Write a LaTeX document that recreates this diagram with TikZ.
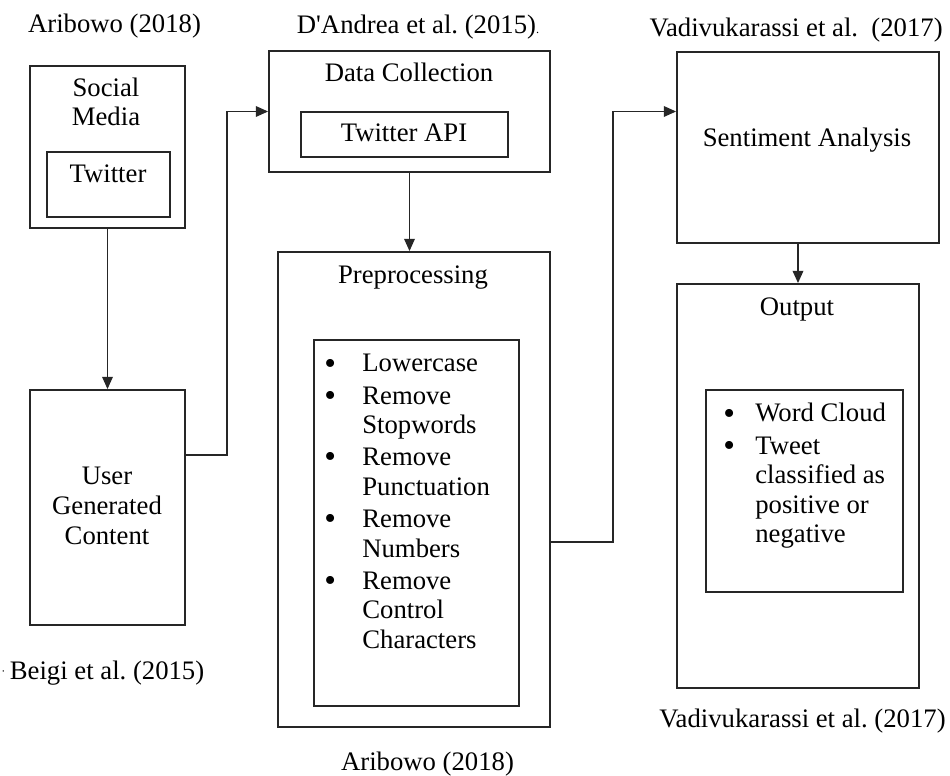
\documentclass[tikz,border=0pt]{standalone}
\usepackage{fontspec}
\setmainfont{Liberation Serif}
\usetikzlibrary{arrows.meta,fit,positioning}
\newcommand{\blt}{\raisebox{-1.2pt}{\fontsize{19}{16}\selectfont•}}

\begin{document}
\frenchspacing
\begin{tikzpicture}[x=0.02cm,y=-0.02cm,
  box/.style={draw=black!85,line width=1pt,inner sep=0pt},
  txt/.style={font=\fontsize{15.2}{16.8}\selectfont,inner sep=0pt,anchor=base},
  arr/.style={draw=black!85,line width=1pt,-{Triangle[length=7pt,width=6pt]}}]
\useasboundingbox (0,0) rectangle (950,776);

\node[box,fit={(30,66) (185,228)}] (social) {};
\node[box,fit={(47,152) (170,217)}] (twitter) {};
\node[box,fit={(30,390) (185,625)}] (ugc) {};

\node[box,fit={(269,51) (550,172)}] (data) {};
\node[box,fit={(301,112) (508,157)}] (api) {};
\node[box,fit={(278,252) (550,727)}] (pre) {};
\node[box,fit={(314,340) (519,706)}] (prelist) {};

\node[box,fit={(677,52) (939,243)}] (sent) {};
\node[box,fit={(677,284) (919,688)}] (out) {};
\node[box,fit={(706,390) (903,592)}] (outlist) {};


\node[txt,align=center] (socialtxt) at (106,126) {Social\\Media};
\node[txt] (twittertxt) at (108,183) {Twitter};
\node[txt,align=center] (ugctxt) at (107,544) {User\\Generated\\Content};
\node[txt] (datatxt) at (409,82) {Data Collection};
\node[txt] (apitxt) at (404,142) {Twitter API};
\node[txt] (pretxt) at (413,284) {Preprocessing};
\node[txt] (senttxt) at (807,147) {Sentiment Analysis};
\node[txt] (outtxt) at (797,316) {Output};

\node[txt,anchor=base west] (preitems) at (324,372) {\begin{tabular}[t]{@{}p{0.76cm}@{}l@{}}
\blt&Lowercase\\[1.5pt]
\blt&Remove\\
 &Stopwords\\[1.5pt]
\blt&Remove\\
 &Punctuation\\[1.5pt]
\blt&Remove\\
 &Numbers\\[1.5pt]
\blt&Remove\\
 &Control\\
 &Characters
\end{tabular}};
\node[txt,anchor=base west] (outitems) at (723,422) {\begin{tabular}[t]{@{}p{0.64cm}@{}l@{}}
\blt&Word Cloud\\[1.5pt]
\blt&Tweet\\
 &classified as\\
 &positive or\\
 &negative
\end{tabular}};

\node[txt] (src1) at (114.5,33) {Aribowo (2018)};
\node[txt] (src2) at (418,34) {D\textquotesingle Andrea et al. (2015){\scriptsize.}};
\node[txt,anchor=base east] (src3) at (943,37) {Vadivukarassi et al.\ \ (2017)};
\node[txt,anchor=base west] (src4) at (1,679) {\raisebox{2pt}{\scriptsize·}\,Beigi et al. (2015)};
\node[txt,anchor=base east] (src5) at (946,727) {Vadivukarassi et al. (2017)};
\node[txt] (src6) at (427.5,770) {Aribowo (2018)};

\draw[arr] (social.south) -- (ugc.north);
\draw[arr] (ugc.east |- 0,455) -- (227,455) |- (data.west);
\draw[arr] (data.south) -- (data.south |- pre.north);
\draw[arr] (pre.east |- 0,542) -- (613,542) |- (sent.west |- data.west);
\draw[arr] (out.north |- sent.south) -- (out.north);
\end{tikzpicture}
\end{document}
